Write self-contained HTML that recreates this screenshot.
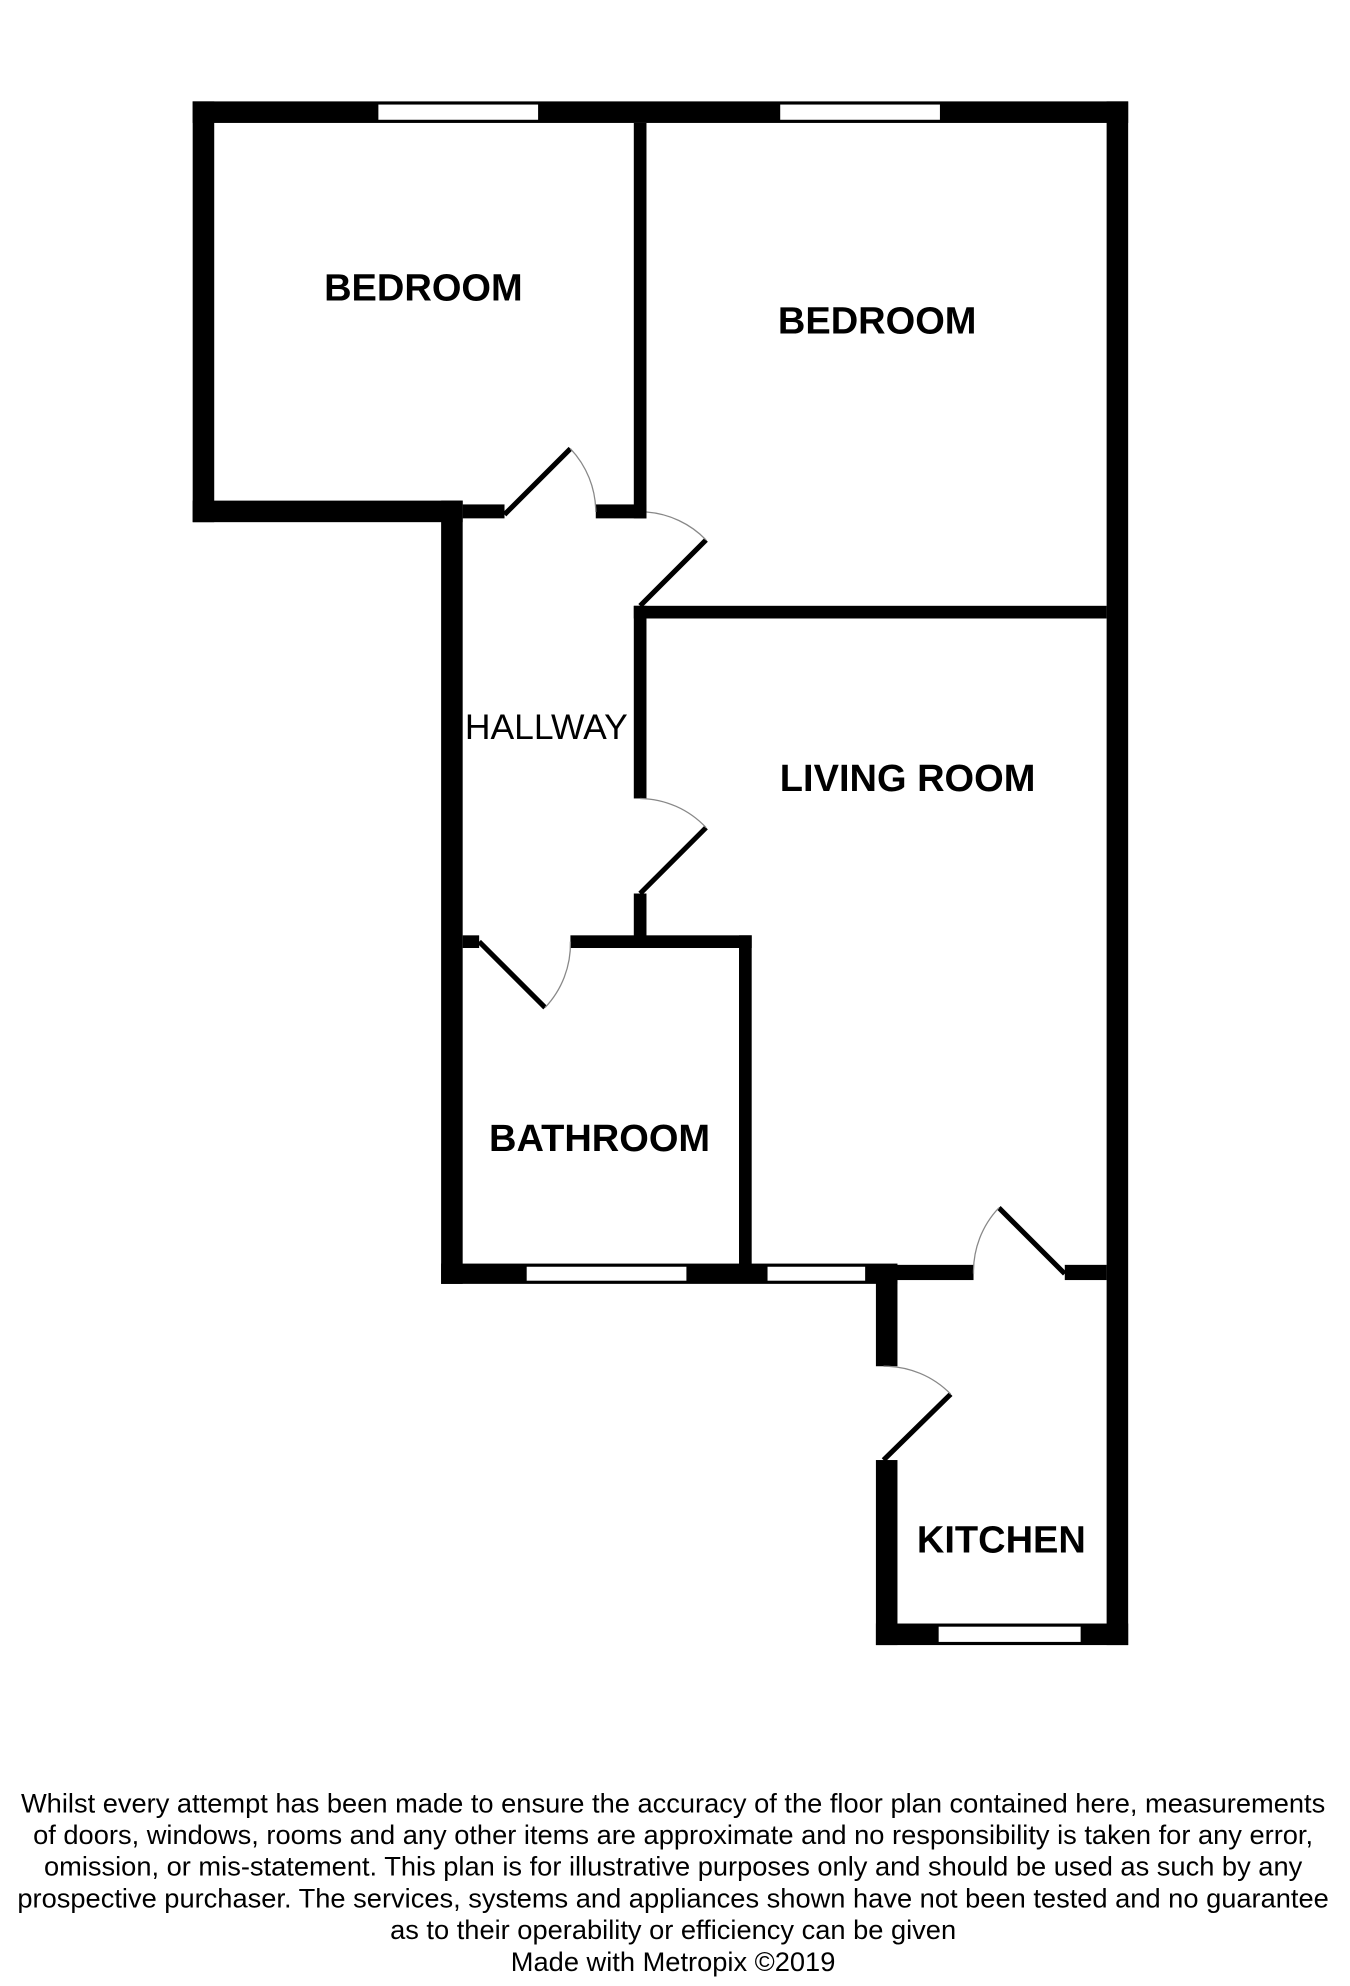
<!DOCTYPE html>
<html><head><meta charset="utf-8"><style>
html,body{margin:0;padding:0;background:#fff;}
svg{display:block;}
</style></head><body>
<svg width="1350" height="1986" viewBox="0 0 1065 1567" preserveAspectRatio="none" xmlns="http://www.w3.org/2000/svg">
<g fill="#000">
<rect x="152" y="80" width="738" height="17"/>
<rect x="152" y="80" width="17" height="332"/>
<rect x="152" y="395" width="213" height="17"/>
<rect x="348" y="395" width="17" height="618"/>
<rect x="365" y="398" width="33" height="11"/>
<rect x="470" y="398" width="40" height="11"/>
<rect x="500" y="97" width="10" height="312"/>
<rect x="873" y="80" width="17" height="1218"/>
<rect x="500" y="478" width="373" height="10"/>
<rect x="500" y="478" width="10" height="152"/>
<rect x="500" y="705" width="10" height="38"/>
<rect x="365" y="738" width="13" height="10"/>
<rect x="450" y="738" width="143" height="10"/>
<rect x="583" y="738" width="10" height="262"/>
<rect x="348" y="997" width="360" height="16"/>
<rect x="683" y="998" width="85" height="12"/>
<rect x="840" y="998" width="33" height="12"/>
<rect x="691" y="1000" width="17" height="78"/>
<rect x="691" y="1152" width="17" height="146"/>
<rect x="691" y="1281" width="199" height="17"/>
</g>
<g fill="#fff" stroke="#000" stroke-width="1">
<rect x="298" y="82" width="127" height="13"/>
<rect x="615" y="82" width="127" height="13"/>
<rect x="415" y="999" width="127" height="12"/>
<rect x="605" y="999" width="78" height="12"/>
<rect x="740" y="1283" width="113" height="13"/>
</g>
<g stroke="#000" stroke-width="4" fill="none">
<line x1="398" y1="406" x2="450" y2="354"/>
<line x1="505" y1="478" x2="557" y2="426"/>
<line x1="505" y1="705" x2="557" y2="653"/>
<line x1="378" y1="743" x2="430" y2="795"/>
<line x1="840" y1="1005" x2="788" y2="953"/>
<line x1="697" y1="1152" x2="750" y2="1100"/>
</g>
<g stroke="#888" stroke-width="1" fill="none">
<path d="M450 354 A73 73 0 0 1 470 404"/>
<path d="M510 404 A73 73 0 0 1 557 426"/>
<path d="M505 630 A73 73 0 0 1 557 653"/>
<path d="M430 795 A73 73 0 0 0 450 743"/>
<path d="M788 953 A73 73 0 0 0 768 1005"/>
<path d="M697 1078 A73 73 0 0 1 750 1100"/>
</g>
<g font-family="Liberation Sans, sans-serif" font-weight="bold" font-size="30" text-anchor="middle" fill="#000">
<text x="334" y="237">BEDROOM</text>
<text x="692" y="263">BEDROOM</text>
<text x="716" y="624">LIVING ROOM</text>
<text x="473" y="908">BATHROOM</text>
<text x="790" y="1225">KITCHEN</text>
</g>
<text x="431" y="583" font-family="Liberation Sans, sans-serif" font-size="28" text-anchor="middle">HALLWAY</text>
<g font-family="Liberation Sans, sans-serif" font-size="21.5" text-anchor="middle" fill="#000">
<text x="531" y="1430">Whilst every attempt has been made to ensure the accuracy of the floor plan contained here, measurements</text>
<text x="531" y="1455">of doors, windows, rooms and any other items are approximate and no responsibility is taken for any error,</text>
<text x="531" y="1480">omission, or mis-statement. This plan is for illustrative purposes only and should be used as such by any</text>
<text x="531" y="1505">prospective purchaser. The services, systems and appliances shown have not been tested and no guarantee</text>
<text x="531" y="1530">as to their operability or efficiency can be given</text>
<text x="531" y="1555">Made with Metropix ©2019</text>
</g>
</svg>
</body></html>
